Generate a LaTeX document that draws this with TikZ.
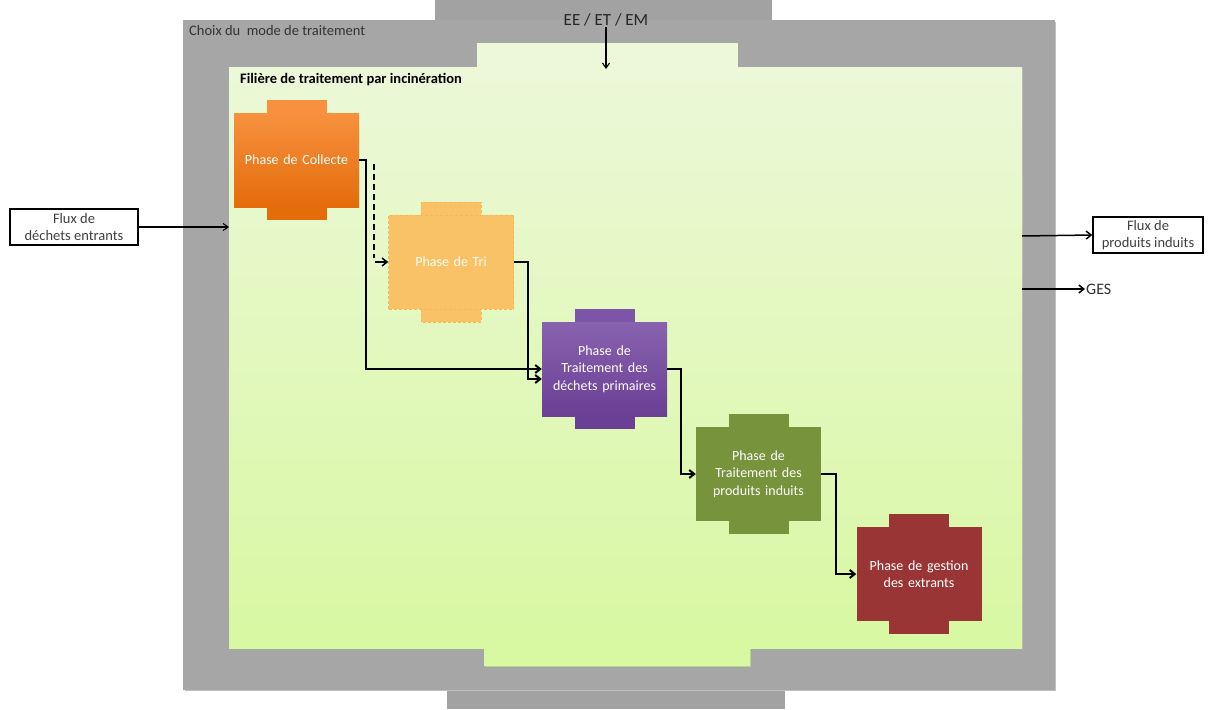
\documentclass[tikz,border=0pt]{standalone}
\usepackage{fontspec}
\setmainfont{Carlito}
\usetikzlibrary{arrows.meta,calc}
\definecolor{outergray}{HTML}{A6A6A6}
\definecolor{tabgray}{HTML}{A2A2A2}
\definecolor{greentop}{HTML}{ECF8D8}
\definecolor{greenbot}{HTML}{D8F8A2}
\definecolor{orangetop}{HTML}{F7913F}
\definecolor{orangebot}{HTML}{E46C0A}
\definecolor{tricol}{HTML}{FAC267}
\definecolor{purpcol}{HTML}{7D55A8}
\definecolor{purpbot}{HTML}{6A3F95}
\definecolor{olivecol}{HTML}{77933C}
\definecolor{redcol}{HTML}{993534}
\tikzset{
  phasebox/.style={minimum width=125pt, minimum height=94pt, text width=118pt, align=center, inner sep=0pt, text=white, font=\fontsize{14}{17.5}\selectfont},
  conn/.style={draw=black, line width=2pt, -{Straight Barb[length=5pt,width=8pt]}},
  thin conn/.style={draw=black, line width=1.1pt, -{Straight Barb[length=5pt,width=7pt]}},
  fluxbox/.style={draw=black, line width=1.4pt, fill=white, minimum width=128pt, minimum height=36pt, align=center, inner sep=1pt, font=\fontsize{14.5}{17}\selectfont, text=black!75},
}
\newcommand\phasetabs[5]{% cx cy topcolor botcolor style
  \fill[#3,#5] (#1-30,#2-60) rectangle (#1+30,#2-47);
  \fill[#4,#5] (#1-30,#2+47) rectangle (#1+30,#2+60);
}
\begin{document}
\begin{tikzpicture}[x=1pt,y=-1pt]
\useasboundingbox (0,0) rectangle (1214,709);
\fill[white] (0,0) rectangle (1214,709);
% outer gray frame with tabs
\fill[tabgray] (435,0) rectangle (772,22);
\fill[tabgray] (447,688) rectangle (785,709);
\fill[black!25] (185,22) rectangle (1056,691);
\node[fill=outergray, minimum width=872pt, minimum height=670pt, inner sep=0pt, anchor=north west] (outer) at (183,20) {};
\node[anchor=west, font=\fontsize{14.5}{16}\selectfont, text=black!80, inner sep=0pt] (choix) at (189,31) {Choix du\ \ mode de traitement};
% green inner with tabs
\fill[greentop] (477,43) rectangle (738,67);
\fill[greenbot!85!black] (485,649) rectangle (751,667);
\fill[greenbot] (484,648) rectangle (750,666);
\fill[black!30] (231,69) rectangle (1023,649);
\shade[top color=greentop, bottom color=greenbot] (229,67) rectangle (1022,648);
\node[minimum width=793pt, minimum height=581pt, inner sep=0pt, anchor=north west] (inner) at (229,67) {};
\node[anchor=west, font=\bfseries\fontsize{14.5}{16}\selectfont, inner sep=0pt] (filiere) at (240,80) {Filière de traitement par incinération};
% EE/ET/EM
\node[font=\fontsize{17}{19}\selectfont, text=black!85, inner sep=1pt] (ee) at (606,20) {EE / ET / EM};
\draw[thin conn] (ee.south) -- (606,69);
% phases
\phasetabs{296.5}{160}{orangetop}{orangebot}{}
\shade[top color=orangetop, bottom color=orangebot] (234,113) rectangle (359,207);
\node[phasebox] (collecte) at (296.5,160) {Phase de Collecte};
\phasetabs{451}{262}{tricol}{tricol}{draw=tricol!80!orange, densely dashed, line width=0.6pt}
\node[phasebox, fill=tricol, draw=tricol!80!orange, densely dashed, line width=0.6pt, text=white!95!yellow] (tri) at (451,262) {Phase de Tri};
\phasetabs{604.5}{369}{purpcol}{purpbot}{}
\shade[top color=purpcol!92!white, bottom color=purpbot] (542,322) rectangle (667,416);
\node[phasebox] (traitp) at (604.5,369) {Phase de\\Traitement des\\déchets primaires};
\phasetabs{758.5}{474}{olivecol}{olivecol}{}
\node[phasebox, fill=olivecol] (traiti) at (758.5,474) {Phase de\\Traitement des\\produits induits};
\phasetabs{919}{574}{redcol}{redcol}{}
\node[phasebox, fill=redcol] (gestion) at (919,574) {Phase de gestion\\des extrants};
% connectors
\draw[conn] (collecte.east) -- ++(7,0) |- (traitp.west);
\draw[black, line width=2pt, dash pattern=on 6pt off 4pt] ($(collecte.east)+(15,4)$) -- ($(collecte.east)+(15,98)$);
\draw[conn, line width=1.5pt] ($(tri.west)+(-13,0)$) -- (tri.west);
\draw[conn] (tri.east) -- ++(14,0) |- ([yshift=-10pt]traitp.west);
\draw[conn] (traitp.east) -- ++(14,0) |- (traiti.west);
\draw[conn] (traiti.east) -- ++(15,0) |- (gestion.west);
% flux
\node[fluxbox] (fin) at (74,227) {Flux de\\déchets entrants};
\draw[thin conn] (fin.east) -- (229,227);
\node[fluxbox, minimum width=110pt] (fout) at (1148,235) {Flux de\\produits induits};
\draw[conn, line width=1.5pt] (1022,236) -- (fout.west);
\coordinate (gesstart) at (1022,289);
\node[anchor=west, font=\fontsize{16}{18}\selectfont, text=black!80, inner sep=1pt] (ges) at (1085,289) {GES};
\draw[conn, line width=1.5pt] (gesstart) -- (ges.west);
\end{tikzpicture}
\end{document}
